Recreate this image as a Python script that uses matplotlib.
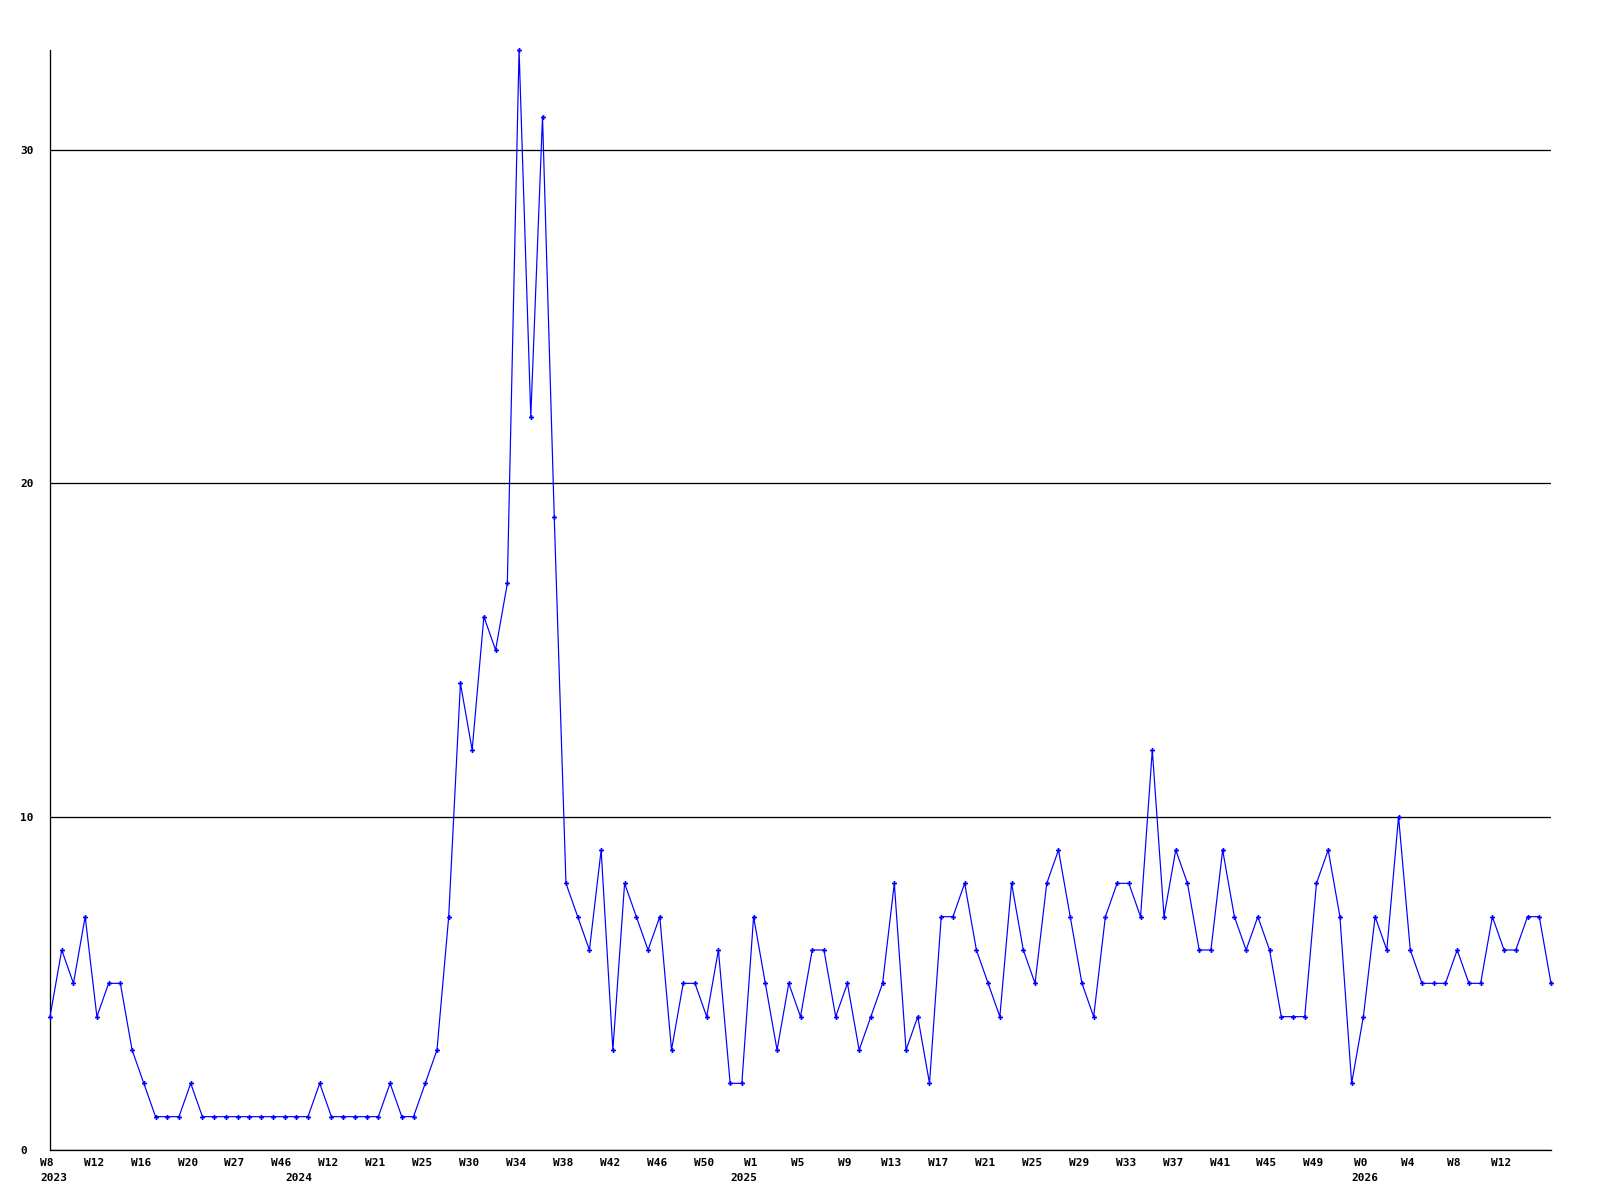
import matplotlib
matplotlib.use('Agg')
import matplotlib.pyplot as plt
from matplotlib.transforms import ScaledTranslation

values = [4, 6, 5, 7, 4, 5, 5, 3, 2, 1,
          1, 1, 2, 1, 1, 1, 1, 1, 1, 1,
          1, 1, 1, 2, 1, 1, 1, 1, 1, 2,
          1, 1, 2, 3, 7, 14, 12, 16, 15, 17,
          33, 22, 31, 19, 8, 7, 6, 9, 3, 8,
          7, 6, 7, 3, 5, 5, 4, 6, 2, 2,
          7, 5, 3, 5, 4, 6, 6, 4, 5, 3,
          4, 5, 8, 3, 4, 2, 7, 7, 8, 6,
          5, 4, 8, 6, 5, 8, 9, 7, 5, 4,
          7, 8, 8, 7, 12, 7, 9, 8, 6, 6,
          9, 7, 6, 7, 6, 4, 4, 4, 8, 9,
          7, 2, 4, 7, 6, 10, 6, 5, 5, 5,
          6, 5, 5, 7, 6, 6, 7, 7, 5]

week_labels = ['W8', 'W12', 'W16', 'W20', 'W27', 'W46', 'W12', 'W21', 'W25', 'W30',
               'W34', 'W38', 'W42', 'W46', 'W50', 'W1', 'W5', 'W9', 'W13', 'W17',
               'W21', 'W25', 'W29', 'W33', 'W37', 'W41', 'W45', 'W49', 'W0', 'W4',
               'W8', 'W12']
year_labels = ['2023', '2024', '2025', '2026']
y_ticks = [0, 10, 20, 30]

# layout (pixels at dpi 100)
W, H = 1600, 1200
DPI = 100
PX = 72.0 / DPI
year_pos = [-0.85, 20.1, 58.05, 111.0]

plt.rcParams['font.family'] = ['DejaVu Sans Mono']
fig = plt.figure(figsize=(W / DPI, H / DPI), dpi=DPI)
ax = fig.add_axes([50 / W, 50 / H, 1501 / W, 1100 / H])

x = list(range(len(values)))
ax.plot(x, values, color='#0000ff', lw=1.0 * PX * 1.2, marker='P', ms=5 * PX,
        mew=0, mfc='#0000ff', zorder=3, clip_on=False)

ax.set_xlim(0, len(values) - 1)
ax.set_ylim(0, 33)

ax.set_yticks(y_ticks)
ax.set_yticklabels([str(v) for v in y_ticks])
ax.yaxis.grid(True, color='black', lw=1 * PX * 1.3)
ax.xaxis.grid(False)

ax.set_xticks(x[::4][:len(week_labels)])
ax.set_xticklabels(week_labels)

ax.tick_params(axis='both', length=0, labelsize=8, colors='black')
ax.tick_params(axis='x', pad=8 * PX)
ax.tick_params(axis='y', pad=30 * PX)
for lbl in ax.get_yticklabels():
    lbl.set_ha('left')
    lbl.set_fontweight('bold')
for lbl in ax.get_xticklabels():
    lbl.set_fontweight('bold')
    lbl.set_transform(lbl.get_transform() + ScaledTranslation(-3 / DPI, 0, fig.dpi_scale_trans))

for lab, pos in zip(year_labels, year_pos):
    ax.annotate(lab, xy=(pos, 0), xycoords=('data', 'axes fraction'),
                xytext=(0, -23 * PX), textcoords='offset points',
                ha='left', va='top', fontsize=8, fontweight='bold', color='black')

for s in ['top', 'right']:
    ax.spines[s].set_visible(False)
for s in ['left', 'bottom']:
    ax.spines[s].set_color('black')
    ax.spines[s].set_linewidth(1 * PX * 1.3)

fig.savefig('out.png', dpi=DPI, facecolor='white')
